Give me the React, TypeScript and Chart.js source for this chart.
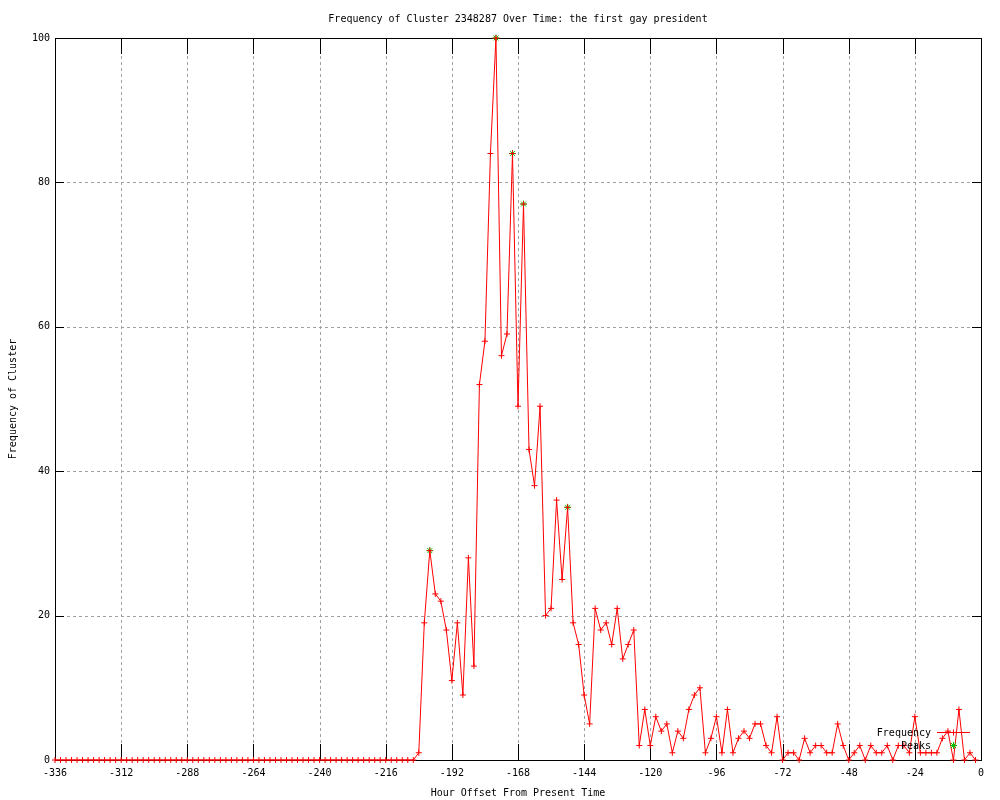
import React, { useEffect, useRef } from "react";
import { Chart, registerables } from "chart.js";

Chart.register(...registerables);

const TITLE = "Frequency of Cluster 2348287 Over Time: the first gay president";
const X_TITLE = "Hour Offset From Present Time";
const Y_TITLE = "Frequency of Cluster";

const START_HOUR = -336;
const STEP_HOURS = 2;

// Frequency every 2 hours, from -336 to -2
const FREQUENCY: number[] = [
  0, 0, 0, 0, 0, 0, 0, 0, 0, 0,
  0, 0, 0, 0, 0, 0, 0, 0, 0, 0,
  0, 0, 0, 0, 0, 0, 0, 0, 0, 0,
  0, 0, 0, 0, 0, 0, 0, 0, 0, 0,
  0, 0, 0, 0, 0, 0, 0, 0, 0, 0,
  0, 0, 0, 0, 0, 0, 0, 0, 0, 0,
  0, 0, 0, 0, 0, 0,
  1, 19, 29, 23, 22, 18, 11, 19, 9, 28,
  13, 52, 58, 84, 100, 56, 59, 84, 49, 77,
  43, 38, 49, 20, 21, 36, 25, 35, 19, 16,
  9, 5, 21, 18, 19, 16, 21, 14, 16, 18,
  2, 7, 2, 6, 4, 5, 1, 4, 3, 7,
  9, 10, 1, 3, 6, 1, 7, 1, 3, 4,
  3, 5, 5, 2, 1, 6, 0, 1, 1, 0,
  3, 1, 2, 2, 1, 1, 5, 2, 0, 1,
  2, 0, 2, 1, 1, 2, 0, 2, 2, 1,
  6, 1, 1, 1, 1, 3, 4, 0, 7, 0,
  1, 0,
];

const HOURS: number[] = FREQUENCY.map((_, i) => START_HOUR + i * STEP_HOURS);

const PEAK_HOURS: number[] = [-200, -176, -170, -166, -150];
const PEAK_VALUES: number[] = [29, 100, 84, 77, 35];

const X_MIN = -336;
const X_MAX = 0;
const X_STEP = 24;
const Y_MIN = 0;
const Y_MAX = 100;
const Y_STEP = 20;

const FONT = '"DejaVu Sans Mono", "Liberation Mono", monospace';
const RED = "#ff0000";
const GREEN = "#00c000";

function drawCross(ctx: CanvasRenderingContext2D, x: number, y: number, r: number) {
  ctx.beginPath();
  ctx.moveTo(x - r, y);
  ctx.lineTo(x + r, y);
  ctx.moveTo(x, y - r);
  ctx.lineTo(x, y + r);
  ctx.stroke();
}

function drawStar(ctx: CanvasRenderingContext2D, x: number, y: number, r: number) {
  drawCross(ctx, x, y, r);
  const d = r * 0.75;
  ctx.beginPath();
  ctx.moveTo(x - d, y - d);
  ctx.lineTo(x + d, y + d);
  ctx.moveTo(x - d, y + d);
  ctx.lineTo(x + d, y - d);
  ctx.stroke();
}

const decorPlugin = {
  id: "gnuplotDecor",
  beforeDatasetsDraw(chart: any) {
    const { ctx, chartArea } = chart;
    const { left, right, top, bottom } = chartArea;
    const xs = chart.scales.x;
    const ys = chart.scales.y;
    ctx.save();
    // grid
    ctx.strokeStyle = "#a0a0a0";
    ctx.lineWidth = 1;
    ctx.setLineDash([3, 3]);
    xs.ticks.forEach((t: any) => {
      const px = Math.round(xs.getPixelForValue(t.value)) + 0.5;
      ctx.beginPath();
      ctx.moveTo(px, top);
      ctx.lineTo(px, bottom);
      ctx.stroke();
    });
    ys.ticks.forEach((t: any) => {
      const py = Math.round(ys.getPixelForValue(t.value)) + 0.5;
      ctx.beginPath();
      ctx.moveTo(left, py);
      ctx.lineTo(right, py);
      ctx.stroke();
    });
    ctx.setLineDash([]);
    // tick marks
    ctx.strokeStyle = "#000";
    xs.ticks.forEach((t: any) => {
      const px = Math.round(xs.getPixelForValue(t.value)) + 0.5;
      ctx.beginPath();
      ctx.moveTo(px, bottom);
      ctx.lineTo(px, bottom - 16);
      ctx.moveTo(px, top);
      ctx.lineTo(px, top + 16);
      ctx.stroke();
    });
    ys.ticks.forEach((t: any) => {
      const py = Math.round(ys.getPixelForValue(t.value)) + 0.5;
      ctx.beginPath();
      ctx.moveTo(left, py);
      ctx.lineTo(left + 9, py);
      ctx.moveTo(right, py);
      ctx.lineTo(right - 9, py);
      ctx.stroke();
    });
    // border
    ctx.strokeRect(Math.round(left) + 0.5, Math.round(top) + 0.5, Math.round(right - left), Math.round(bottom - top));
    ctx.restore();
  },
  afterDraw(chart: any) {
    const { ctx, chartArea } = chart;
    const { left, right, top, bottom } = chartArea;
    ctx.save();
    ctx.fillStyle = "#000";
    ctx.font = `10px ${FONT}`;
    ctx.textBaseline = "middle";
    ctx.textAlign = "center";
    ctx.fillText(TITLE, (left + right) / 2, 19);
    ctx.fillText(X_TITLE, (left + right) / 2, 793);
    ctx.save();
    ctx.translate(13, (top + bottom) / 2);
    ctx.rotate(-Math.PI / 2);
    ctx.fillText(Y_TITLE, 0, 0);
    ctx.restore();
    // legend
    ctx.textAlign = "right";
    ctx.fillText("Frequency", 931, 733);
    ctx.fillText("Peaks", 931, 746);
    ctx.strokeStyle = RED;
    ctx.lineWidth = 1;
    ctx.beginPath();
    ctx.moveTo(937, 732.5);
    ctx.lineTo(970, 732.5);
    ctx.stroke();
    drawCross(ctx, 953.5, 732.5, 3);
    ctx.strokeStyle = GREEN;
    drawStar(ctx, 953.5, 745.5, 3.5);
    ctx.restore();
  },
};

export default function App() {
  const canvasRef = useRef<HTMLCanvasElement | null>(null);

  useEffect(() => {
    const canvas = canvasRef.current;
    if (!canvas) return;
    const chart = new Chart(canvas, {
      type: "line",
      data: {
        datasets: [
          {
            label: "Frequency",
            data: HOURS.map((h, i) => ({ x: h, y: FREQUENCY[i] })),
            borderColor: RED,
            backgroundColor: RED,
            borderWidth: 1,
            pointStyle: "cross",
            pointRadius: 3,
            pointBorderWidth: 1,
            pointBorderColor: RED,
            tension: 0,
            clip: false,
            order: 0,
          },
          {
            label: "Peaks",
            data: PEAK_HOURS.map((h, i) => ({ x: h, y: PEAK_VALUES[i] })),
            showLine: false,
            borderColor: GREEN,
            backgroundColor: GREEN,
            pointStyle: "star",
            pointRadius: 3.5,
            pointBorderWidth: 1,
            pointBorderColor: GREEN,
            clip: false,
            order: 1,
          },
        ],
      },
      options: {
        responsive: false,
        animation: false,
        devicePixelRatio: 1,
        layout: { padding: { top: 38, right: 19, left: 0, bottom: 0 } },
        plugins: {
          legend: { display: false },
          title: { display: false },
          tooltip: { enabled: false },
        },
        scales: {
          x: {
            type: "linear",
            min: X_MIN,
            max: X_MAX,
            grid: { display: false, drawTicks: false },
            border: { display: false },
            ticks: {
              stepSize: X_STEP,
              autoSkip: false,
              maxRotation: 0,
              padding: 7,
              color: "#000",
              font: { family: FONT, size: 10 },
            },
            afterFit: (s: any) => {
              s.height = 40;
            },
          },
          y: {
            type: "linear",
            min: Y_MIN,
            max: Y_MAX,
            grid: { display: false, drawTicks: false },
            border: { display: false },
            ticks: {
              stepSize: Y_STEP,
              padding: 5,
              color: "#000",
              font: { family: FONT, size: 10 },
            },
            afterFit: (s: any) => {
              s.width = 55;
            },
          },
        },
      },
      plugins: [decorPlugin],
    });
    return () => chart.destroy();
  }, []);

  return (
    <div style={{ position: "fixed", left: 0, top: 0, width: 1000, height: 800, background: "#fff" }}>
      <canvas ref={canvasRef} width={1000} height={800} style={{ width: 1000, height: 800 }} />
    </div>
  );
}
